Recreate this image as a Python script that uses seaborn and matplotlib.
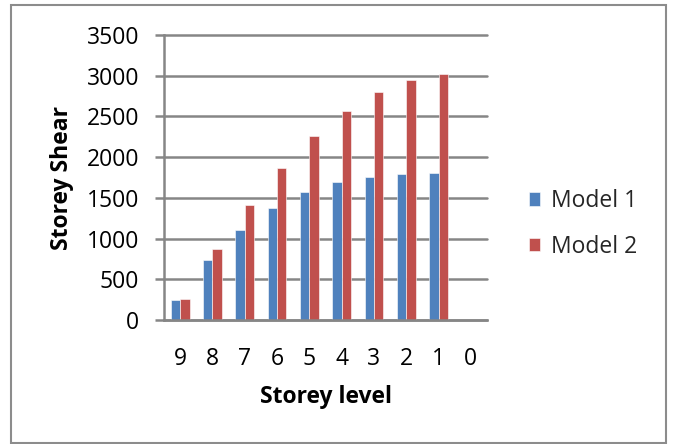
import pandas as pd
import matplotlib
matplotlib.use("Agg")
import matplotlib.pyplot as plt
from matplotlib.patches import Rectangle
import seaborn as sns

# Storey shear per level for the two building models
storey_levels = ["9", "8", "7", "6", "5", "4", "3", "2", "1", "0"]
model_1_shear = [240, 731, 1102, 1380, 1567, 1694, 1759, 1792, 1800, 0]
model_2_shear = [261, 873, 1412, 1869, 2254, 2566, 2795, 2943, 3025, 0]
series_names = ["Model 1", "Model 2"]
series_colors = ["#4F81BD", "#C0504D"]
y_ticks = [0, 500, 1000, 1500, 2000, 2500, 3000, 3500]

df = pd.DataFrame({
    "Storey level": storey_levels * 2,
    "Storey Shear": model_1_shear + model_2_shear,
    "Model": [series_names[0]] * len(storey_levels) + [series_names[1]] * len(storey_levels),
})

sns.set_theme(style="white")
plt.rcParams["font.family"] = ["Open Sans", "DejaVu Sans"]

W, H = 674, 444
fig = plt.figure(figsize=(W / 100, H / 100), dpi=100)
left, right, top, bottom = 164, 487, 35, 320
ax = fig.add_axes([left / W, 1 - bottom / H, (right - left) / W, (bottom - top) / H])

sns.barplot(
    data=df, x="Storey level", y="Storey Shear", hue="Model",
    order=storey_levels, hue_order=series_names, palette=series_colors,
    width=0.58, gap=0, saturation=1, ax=ax,
    edgecolor="white", linewidth=0.4,
)

grid_color = "#868686"
fs = 16.5
ax.set_ylim(0, 3500)
ax.set_xlim(-0.5, len(storey_levels) - 0.5)
ax.set_yticks(y_ticks)
ax.set_axisbelow(True)
ax.yaxis.grid(True, color=grid_color, linewidth=1.8)
for gl in ax.get_ygridlines():
    gl.set_clip_on(False)

for side in ["top", "right"]:
    ax.spines[side].set_visible(False)
for side in ["left", "bottom"]:
    ax.spines[side].set_color(grid_color)
    ax.spines[side].set_linewidth(1.8)

ax.tick_params(axis="y", length=6.5, width=1.8, color=grid_color, pad=11.5,
               labelsize=fs, labelcolor="black", left=True)
ax.tick_params(axis="x", length=0, pad=19.5, labelsize=fs, labelcolor="black")

ax.set_ylabel("Storey Shear", fontsize=fs, fontweight="bold", color="black")
ax.yaxis.set_label_coords((74 - left) / (right - left), 0.5)
ax.set_xlabel("Storey level", fontsize=fs, fontweight="bold", color="black")
ax.xaxis.set_label_coords(0.5, -(385 - bottom) / (bottom - top))

ax.legend(
    loc="center left", bbox_to_anchor=(529 / W, 1 - 224 / H),
    bbox_transform=fig.transFigure, frameon=False, fontsize=fs,
    handlelength=0.5, handleheight=0.5, handletextpad=0.45,
    labelspacing=0.95, borderaxespad=0, borderpad=0, title=None,
)

# outer chart border
fig.patches.append(Rectangle(
    (11 / W, 1 - 443 / H), (666 - 11) / W, (443 - 5) / H,
    transform=fig.transFigure, fill=False, edgecolor="#8c8c8c", linewidth=1.5,
))

fig.savefig("out.png", dpi=100)
